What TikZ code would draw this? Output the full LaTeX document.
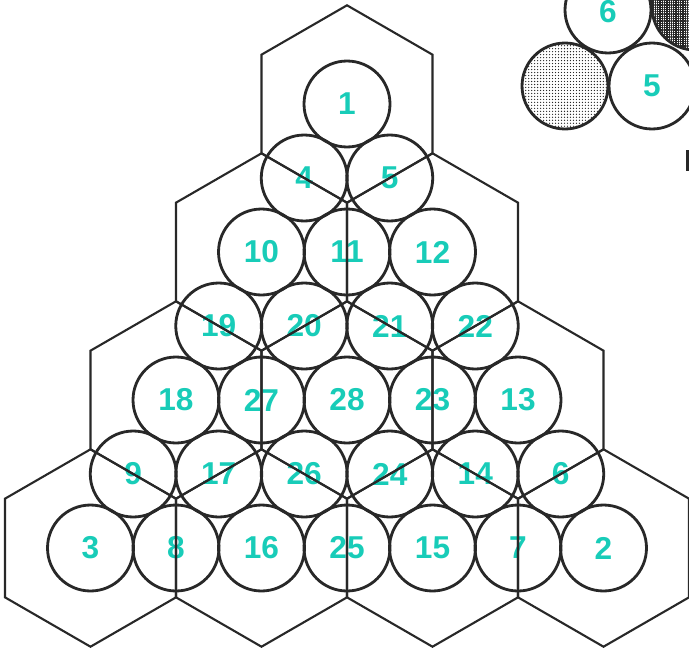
\documentclass[tikz,border=0pt]{standalone}
\usepackage{fontspec}
\setmainfont{Liberation Sans}
\usetikzlibrary{patterns.meta}

\definecolor{numteal}{RGB}{24,204,184}
\definecolor{ink}{RGB}{40,40,40}

\begin{document}
\begin{tikzpicture}[
    x=0.02cm, y=-0.02cm,
    ball/.style={circle, draw=ink, line width=1.6pt, minimum size=1.72cm, inner sep=0pt,
        font=\fontsize{18}{18}\selectfont\bfseries, text=numteal},
    hexline/.style={draw=ink, line width=1.2pt, line join=miter},
    numtext/.style={font=\fontsize{18}{18}\selectfont\bfseries, text=numteal, inner sep=0pt},
]
\useasboundingbox (0,0) rectangle (689,649);

% Row 1
\node[ball] (b1) at (347,104) {1};

% Row 2
\node[ball] (b4) at (304.25,178) {4};
\node[ball] (b5) at (389.75,178) {5};

% Row 3
\node[ball] (b10) at (261.5,252) {10};
\node[ball] (b11) at (347,252)   {11};
\node[ball] (b12) at (432.5,252) {12};

% Row 4
\node[ball] (b19) at (218.75,326) {19};
\node[ball] (b20) at (304.25,326) {20};
\node[ball] (b21) at (389.75,326) {21};
\node[ball] (b22) at (475.25,326) {22};

% Row 5
\node[ball] (b18) at (176,400)   {18};
\node[ball] (b27) at (261.5,400) {27};
\node[ball] (b28) at (347,400)   {28};
\node[ball] (b23) at (432.5,400) {23};
\node[ball] (b13) at (518,400)   {13};

% Row 6
\node[ball] (b9)  at (133.25,474) {9};
\node[ball] (b17) at (218.75,474) {17};
\node[ball] (b26) at (304.25,474) {26};
\node[ball] (b24) at (389.75,474) {24};
\node[ball] (b14) at (475.25,474) {14};
\node[ball] (b6)  at (560.75,474) {6};

% Row 7
\node[ball] (b3)  at (90.5,548)  {3};
\node[ball] (b8)  at (176,548)   {8};
\node[ball] (b16) at (261.5,548) {16};
\node[ball] (b25) at (347,548)   {25};
\node[ball] (b15) at (432.5,548) {15};
\node[ball] (b7)  at (518,548)   {7};
\node[ball] (b2)  at (603.5,548) {2};

% Hexagons, one round every seventh ball
\foreach \c in {b1,b10,b12,b18,b28,b13,b3,b16,b15,b2}
    \draw[hexline, shift={(\c)}] (90:98.7) -- (30:98.7) -- (-30:98.7) -- (-90:98.7)
        -- (-150:98.7) -- (150:98.7) -- cycle;

% Inset, top right
\node[ball] (i6) at (608,10) {};
\node[numtext] (i6num) at (608,12) {6};
\node[ball, pattern={Hatch[distance=1.3pt, line width=0.75pt]}, pattern color=ink] (dark) at (695,7) {};
\node[ball, pattern={Dots[distance=1.7pt, radius=0.38pt]}, pattern color=ink] (dotted) at (565,86) {};
\node[ball] (i5) at (652,86) {5};
\fill[ink] (686,150) rectangle (689,171);

\end{tikzpicture}
\end{document}
